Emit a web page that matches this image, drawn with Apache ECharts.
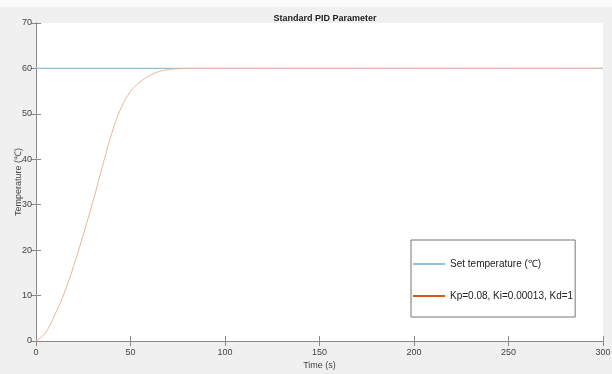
<!DOCTYPE html>
<html>
<head>
<meta charset="utf-8">
<script src="https://cdn.jsdelivr.net/npm/echarts@6/dist/echarts.min.js"></script>
<style>
  html, body { margin: 0; padding: 0; background: #f0f0f0; }
  #chart { width: 612px; height: 374px; }
</style>
</head>
<body>
<div id="chart"></div>
<script>
// data
const timeS = [0, 5, 10, 15, 20, 25, 30, 35, 40, 45, 50, 55, 60, 65, 70, 75, 80, 90, 100, 150, 200, 250, 300];
const tempC = [0, 1.8, 5.8, 10.6, 16.6, 23.4, 30.5, 38.2, 45.6, 51.3, 54.9, 57.0, 58.4, 59.3, 59.75, 59.93, 60, 60, 60, 60, 60, 60, 60];
const setTime = [0, 300];
const setTemp = [60, 60];
const xTicks = [0, 50, 100, 150, 200, 250, 300];
const yTicks = [0, 10, 20, 30, 40, 50, 60, 70];

const setName = 'Set temperature (℃)';
const pidName = 'Kp=0.08, Ki=0.00013, Kd=1';
const font = 'Liberation Sans, Arial, sans-serif';

const chart = echarts.init(document.getElementById('chart'));

const axisCommon = {
  axisLine: { lineStyle: { color: '#8a8a8a', width: 1 } },
  axisTick: { inside: true, length: 5, lineStyle: { color: '#8a8a8a' } },
  splitLine: { show: false }
};

chart.setOption({
  backgroundColor: '#f0f0f0',
  animation: false,
  title: {
    text: 'Standard PID Parameter',
    left: 320, top: 9, textAlign: 'center',
    textStyle: { fontFamily: font, fontSize: 9, fontWeight: 'bold', color: '#222' }
  },
  graphic: [{ type: 'rect', shape: { x: 0, y: 0, width: 612, height: 7 }, style: { fill: '#fafafa' }, z: -1 }],
  grid: {
    left: 36, right: 9, top: 23, bottom: 33,
    containLabel: false, outerBoundsMode: 'none',
    show: true, backgroundColor: '#fff', borderWidth: 0
  },
  legend: {
    orient: 'vertical',
    left: 411, top: 240,
    backgroundColor: '#fff',
    borderColor: '#777', borderWidth: 1,
    padding: [19, 2, 16, 2],
    itemGap: 22,
    itemWidth: 32, itemHeight: 2,
    icon: 'rect',
    textStyle: { fontFamily: font, fontSize: 10, color: '#222' },
    data: [
      { name: setName, itemStyle: { color: '#8fc1dd' } },
      { name: pidName, itemStyle: { color: '#d9541e' } }
    ]
  },
  xAxis: [
    Object.assign({}, axisCommon, {
      type: 'value', min: 0, max: 300, interval: 50,
      name: 'Time (s)', nameLocation: 'middle', nameGap: 20, nameMoveOverlap: false,
      nameTextStyle: { fontFamily: font, fontSize: 9, color: '#444' },
      axisLabel: { fontFamily: font, fontSize: 9, color: '#444', margin: 7,
        formatter: v => xTicks.includes(v) ? String(v) : '' }
    }),
    Object.assign({}, axisCommon, {
      type: 'value', min: 0, max: 300, interval: 50, position: 'top',
      axisLabel: { show: false }
    })
  ],
  yAxis: [
    Object.assign({}, axisCommon, {
      type: 'value', min: 0, max: 70, interval: 10,
      name: 'Temperature (℃)', nameLocation: 'middle', nameGap: 13, nameRotate: 90, nameMoveOverlap: false,
      nameTextStyle: { fontFamily: font, fontSize: 9, color: '#444' },
      axisLabel: { fontFamily: font, fontSize: 9, color: '#444', margin: 4,
        formatter: v => yTicks.includes(v) ? String(v) : '' }
    }),
    Object.assign({}, axisCommon, {
      type: 'value', min: 0, max: 70, interval: 10, position: 'right',
      axisLabel: { show: false }
    })
  ],
  series: [
    {
      name: setName, type: 'line', showSymbol: false,
      data: setTime.map((t, i) => [t, setTemp[i]]),
      lineStyle: { color: '#8fc1dd', width: 1.2 },
      itemStyle: { color: '#8fc1dd' }, z: 2
    },
    {
      name: pidName, type: 'line', showSymbol: false, smooth: 0.4,
      data: timeS.map((t, i) => [t, tempC[i]]),
      lineStyle: { color: '#e8b59c', width: 1 },
      itemStyle: { color: '#d9541e' }, z: 3
    }
  ]
});
</script>
</body>
</html>
